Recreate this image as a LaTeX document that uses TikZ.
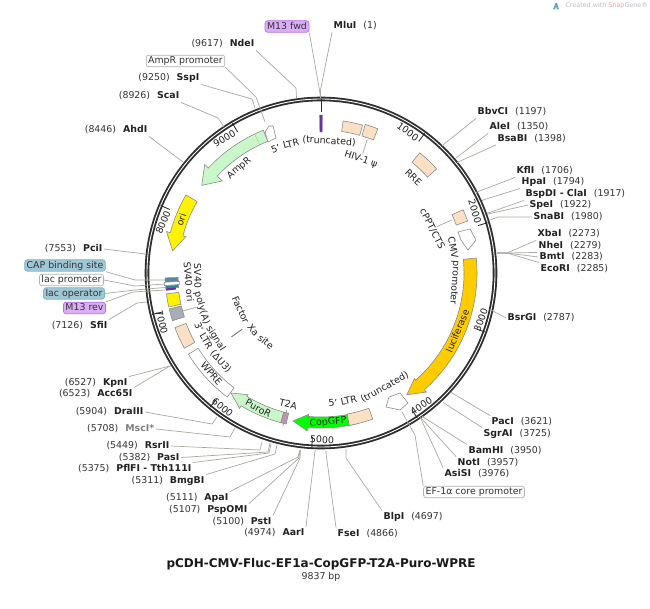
\documentclass[tikz,border=0pt]{standalone}
\usepackage{fontspec}
\setmainfont{DejaVu Sans}
\newcommand{\lblfont}{\fontsize{9.4}{11}\selectfont}
\definecolor{peach}{HTML}{FBE0C3}
\definecolor{ltgreen}{HTML}{C9F7C9}
\definecolor{orangef}{HTML}{FFCC00}
\definecolor{leadc}{HTML}{A9A9A2}
\definecolor{edgec}{HTML}{8C8C8C}
\definecolor{txtc}{HTML}{222222}
\definecolor{numc}{HTML}{333333}
\definecolor{primerc}{HTML}{6B2FA0}
\definecolor{primerfill}{HTML}{DCAEF7}
\definecolor{primeredge}{HTML}{B56BEB}
\definecolor{bluefill}{HTML}{9FC8D6}
\definecolor{blueedge}{HTML}{7FB6CC}
\definecolor{svgray}{HTML}{A8AEB4}
\definecolor{capfill}{HTML}{5A8A99}
\definecolor{opfill}{HTML}{1F8A96}
\definecolor{t2afill}{HTML}{C293B5}
\definecolor{wmgray}{HTML}{B9BEC4}
\definecolor{wmred}{HTML}{F2A3A3}
\definecolor{wmblue}{HTML}{5AA7E0}
\tikzset{
  lab/.style={font=\lblfont,text=txtc,inner sep=1.5,text height=7.5,text depth=2},
  leader/.style={draw=leadc,line width=0.7},
  feat/.style={draw=edgec,line width=0.6},
  tag/.style={font=\lblfont,text=numc,rounded corners=2.5,line width=0.7,inner xsep=2,inner ysep=1,text height=7.5,text depth=2},
  primerbox/.style={tag,fill=primerfill,draw=primeredge},
  bluebox/.style={tag,fill=bluefill,draw=blueedge},
  whitebox/.style={tag,fill=white,draw=gray!60},
  rotlab/.style={lab,inner sep=0}
}
% enzyme labels: id, x, y, name, number, anchor of leader, bend, site
\newcommand{\enzL}[8]{\node[lab,anchor=east] (#1) at (#2,#3) {\textcolor{numc}{(#5)}\hspace{7pt}\textbf{#4}};
  \coordinate (#1-b) at #7; \coordinate (#1-s) at #8;
  \draw[leader] (#1.#6) -- (#1-b) -- (#1-s);}
\newcommand{\enzR}[8]{\node[lab,anchor=west] (#1) at (#2,#3) {\textbf{#4}\hspace{7pt}\textcolor{numc}{(#5)}};
  \coordinate (#1-b) at #7; \coordinate (#1-s) at #8;
  \draw[leader] (#1.#6) -- (#1-b) -- (#1-s);}
% features in polar coordinates, angle clockwise from top
\newcommand{\band}[5]{\draw[#1] ({90-(#2)}:#5) arc[start angle={90-(#2)},end angle={90-(#3)},radius=#5] -- ({90-(#3)}:#4) arc[start angle={90-(#3)},end angle={90-(#2)},radius=#4] -- cycle;}
\newcommand{\arrowfeat}[9]{\draw[#1] ({90-(#2)}:#6) arc[start angle={90-(#2)},end angle={90-(#3)},radius=#6] -- ({90-(#3)}:#8) -- ({90-(#4)}:#9) -- ({90-(#3)}:#7) -- ({90-(#3)}:#5) arc[start angle={90-(#3)},end angle={90-(#2)},radius=#5] -- cycle;}
% words set on a circle: name, text, angle, radius
\newcommand{\wordcw}[4]{\node[rotlab,rotate={-(#3)}] (#1) at ({90-(#3)}:#4) {#2};}
\newcommand{\wordccw}[4]{\node[rotlab,rotate={180-(#3)}] (#1) at ({90-(#3)}:#4) {#2};}
\newcommand{\tickup}[2]{\draw[line width=0.8,txtc] ({90-(#2)}:164) -- ({90-(#2)}:174);
  \node[rotlab,anchor=east,rotate={-(#2)}] (t#1) at ({90-(#2-0.8)}:164.5) {#1};}
\newcommand{\tickdn}[2]{\draw[line width=0.8,txtc] ({90-(#2)}:164) -- ({90-(#2)}:174);
  \node[rotlab,anchor=west,rotate={180-(#2)}] (t#1) at ({90-(#2+0.8)}:167) {#1};}
\begin{document}
\begin{tikzpicture}[x=1pt,y=-1pt]
\useasboundingbox (0,0) rectangle (650,609);
\fill[white] (0,0) rectangle (650,609);

\begin{scope}[shift={(321,273)},y=1pt]
  % backbone
  \draw[line width=4.6,color=black!82] (0,0) circle[radius=174];
  \draw[line width=0.9,color=white] (0,0) circle[radius=174];
\end{scope}

% tags
\node[primerbox] (m13fwd) at (287,26.5) {M13 fwd};
\node[whitebox] (amppro) at (185.5,61) {AmpR promoter};
\node[bluebox] (cap) at (65,265.5) {CAP binding site};
\node[whitebox] (lacpro) at (71.5,280) {lac promoter};
\node[bluebox] (lacop) at (74,293.5) {lac operator};
\node[primerbox] (m13rev) at (84.5,308) {M13 rev};
\node[whitebox] (ef1a) at (474,492) {EF-1α core promoter};

\coordinate (m13fwd-b) at (319.5,90); \coordinate (m13fwd-s) at (320.5,98);
\draw[leader] (m13fwd.south east) -- (m13fwd-b) -- (m13fwd-s);
\coordinate (amppro-b) at (256,97); \coordinate (amppro-s) at (265,122);
\draw[leader] (amppro.south east) -- (amppro-b) -- (amppro-s);
\coordinate (cap-b) at (135,280); \coordinate (cap-s) at (165,280);
\draw[leader] (cap.south east) -- (cap-b) -- (cap-s);
\coordinate (lacpro-b) at (135,286); \coordinate (lacpro-s) at (165,284);
\draw[leader] (lacpro.east) -- (lacpro-b) -- (lacpro-s);
\coordinate (lacop-b) at (135,290); \coordinate (lacop-s) at (165,287.5);
\draw[leader] (lacop.east) -- (lacop-b) -- (lacop-s);
\coordinate (m13rev-b) at (133,292); \coordinate (m13rev-s) at (165,290);
\draw[leader] (m13rev.north east) -- (m13rev-b) -- (m13rev-s);
\coordinate (ef1a-b) at (415,435); \coordinate (ef1a-s) at (402,412);
\draw[leader] (ef1a.north west) -- (ef1a-b) -- (ef1a-s);

% enzyme sites, top and left
\enzR{mlui}{332}{26}{MluI}{1}{south west}{(320.5,90)}{(320.5,98)}
\enzL{ndei}{256}{44}{NdeI}{9617}{south east}{(296,88)}{(296.5,98)}
\enzL{sspi}{201}{78}{SspI}{9250}{south east}{(252,99)}{(255,108)}
\enzL{scai}{181}{96}{ScaI}{8926}{south east}{(218,118)}{(224,127)}
\enzL{ahdi}{149}{130}{AhdI}{8446}{south east}{(183,162)}{(184,163)}
\enzL{pcii}{104}{249}{PciI}{7553}{east}{(145,254)}{(146,254)}
\enzL{sfii}{109}{326}{SfiI}{7126}{north east}{(137,303)}{(147,302)}
\enzL{kpni}{129}{383}{KpnI}{6527}{north east}{(170,366)}{(171,365.5)}
\enzL{acc}{134}{394}{Acc65I}{6523}{north east}{(170,366)}{(171,365.5)}
\enzL{dra}{145}{412}{DraIII}{5904}{east}{(212,424)}{(217,417)}
\node[lab,anchor=east] (msc) at (156,429) {\textcolor{numc}{(5708)}\hspace{7pt}\textcolor{gray}{\textbf{MscI*}}};
\coordinate (msc-b) at (230,437); \coordinate (msc-s) at (235,428);
\draw[leader] (msc.east) -- (msc-b) -- (msc-s);
\enzL{rsr}{171}{446}{RsrII}{5449}{east}{(260,450)}{(262,442)}
\enzL{pas}{181}{457.5}{PasI}{5382}{east}{(268,452)}{(270,443)}
\enzL{pfl}{193}{469}{PflFI - Tth111I}{5375}{north east}{(269,453)}{(271,444)}
\enzL{bmg}{206}{481}{BmgBI}{5311}{north east}{(275,454)}{(277,445)}
\enzL{apa}{230}{498}{ApaI}{5111}{north east}{(298,457)}{(300,450)}
\enzL{psp}{249}{510}{PspOMI}{5107}{north east}{(299,458)}{(300,450)}
\enzL{pst}{273}{522}{PstI}{5100}{north east}{(300,458)}{(300.5,450)}
\enzL{aar}{306}{533}{AarI}{4974}{north east}{(315,451)}{(315.5,450)}
% enzyme sites, right and bottom
\enzR{bbv}{476}{112}{BbvCI}{1197}{south west}{(443,145)}{(442,146)}
\enzR{ale}{488}{127}{AleI}{1350}{south west}{(456,158)}{(455,159)}
\enzR{bsa}{496}{138.5}{BsaBI}{1398}{south west}{(458,162)}{(457,163)}
\enzR{kfl}{515}{171}{KflI}{1706}{south west}{(477,192)}{(476,193)}
\enzR{hpa}{520}{182}{HpaI}{1794}{south west}{(483,200)}{(482,201)}
\enzR{bsp}{524}{194}{BspDI - ClaI}{1917}{south west}{(488,213)}{(487,213.5)}
\enzR{spe}{528}{205}{SpeI}{1922}{west}{(488,214)}{(487,214)}
\enzR{sna}{532}{217}{SnaBI}{1980}{west}{(498,217)}{(490,220)}
\enzR{xba}{536}{234}{XbaI}{2273}{south west}{(507,253)}{(497,253)}
\enzR{nhe}{537}{246}{NheI}{2279}{south west}{(507,253)}{(497,253)}
\enzR{bmt}{538}{257}{BmtI}{2283}{west}{(507,253)}{(497,253)}
\enzR{eco}{539}{269}{EcoRI}{2285}{north west}{(507,253)}{(497,253)}
\enzR{bsr}{506}{318}{BsrGI}{2787}{west}{(491,310)}{(490,309.5)}
\enzR{pac}{490}{422}{PacI}{3621}{north west}{(452,393)}{(451,392.5)}
\enzR{sgr}{482}{434}{SgrAI}{3725}{north west}{(444,403)}{(443,402.5)}
\enzR{bam}{467}{451}{BamHI}{3950}{north west}{(423,417)}{(422,416)}
\enzR{not}{456}{463}{NotI}{3957}{north west}{(421,418)}{(420.5,417)}
\enzR{asi}{443}{474}{AsiSI}{3976}{north west}{(421,419)}{(420,418)}
\enzR{blp}{382}{517}{BlpI}{4697}{north west}{(346,458)}{(346,449)}
\enzR{fse}{336}{534}{FseI}{4866}{north west}{(326,453)}{(326,451)}

\begin{scope}[shift={(321,273)},y=1pt]
  % ticks
  \tickup{1000}{36.6}
  \tickup{2000}{73.2}
  \tickdn{3000}{109.8}
  \tickdn{4000}{146.4}
  \tickdn{5000}{183.0}
  \tickdn{6000}{219.6}
  \tickdn{7000}{256.2}
  \tickup{8000}{292.8}
  \tickup{9000}{329.4}
  % directional features
  \arrowfeat{feat,fill=ltgreen}{338}{313}{306.3}{142}{154}{135}{159}{148}
  \draw[edgec,line width=0.5,densely dotted] ({90-334.5}:142) -- ({90-334.5}:154);
  \arrowfeat{feat,fill=yellow}{300}{285}{278.5}{143}{156}{140}{160}{150}
  \arrowfeat{feat,fill=orangef}{84.5}{138.5}{144.8}{143}{156}{141}{159}{149}
  \arrowfeat{feat,fill=green}{166}{185}{190.7}{144}{155}{142}{158.5}{150.6}
  \arrowfeat{feat,fill=ltgreen}{195}{211}{216.9}{144}{155}{142}{158}{150}
  % bands
  \band{feat,fill=peach}{8.3}{15.7}{143}{153.6}
  \band{feat,fill=peach}{16.6}{21.5}{143}{155}
  \band{feat,fill=peach}{39.4}{48}{143.3}{155.6}
  \band{feat,fill=peach}{66}{70.5}{143.5}{155.5}
  \band{feat,fill=peach}{160.5}{169.5}{143.5}{155}
  \band{feat,fill=white}{217.1}{238.5}{144}{155.5}
  \band{feat,fill=peach}{241.2}{249.5}{144}{156}
  \band{feat,fill=svgray}{252.2}{256.7}{143.5}{156}
  \band{feat,fill=yellow}{257.4}{262.3}{143.5}{156}
  % lac region
  \band{feat,fill=capfill}{266.6}{268.2}{143}{156}
  \band{feat,fill=white}{265.4}{266.6}{142}{157}
  \band{feat,fill=opfill}{264.2}{265.2}{143}{156}
  \band{draw=none,fill=primerc}{263.5}{264.3}{146}{156}
  % T2A
  \draw[edgec,line width=0.6] ({90-194}:141) -- ({90-194}:158);
  \band{feat,fill=t2afill}{193}{195}{144}{155}
  % M13 fwd primer and MluI cut mark
  \band{draw=gray,line width=0.3,fill=primerc}{-0.5}{0.5}{141}{158}
  \draw[black!85,line width=0.9] (90:161) -- (90:174);
  % Factor Xa site
  \draw[gray!90!black,line width=0.9] ({90-234.5}:97) -- ({90-234.5}:110);
\end{scope}

\draw[feat,fill=white] (265,132) -- (269,126) -- (273,126) -- (276,138) -- (268,142) -- cycle;
\draw[feat,fill=white] (458,232) -- (470,229) -- (476,240) -- (468,250) -- (461,240) -- cycle;
\draw[feat,fill=white] (389,397) -- (400,393) -- (408,403) -- (400,410) -- (386,407) -- cycle;

% feature leaders
\coordinate (hivA) at (367,140); \coordinate (cpptA) at (452,220); \coordinate (svA) at (183,311); \coordinate (svB) at (197,307);

\node[rotlab,rotate=-19] (hivl) at (361,159) {HIV-1 ψ};
\draw[leader] (hivA) -- (hivl.north);
\node[rotlab,rotate=-44] (rrel) at (413,178) {RRE};
\node[rotlab,rotate=-63] (cpptl) at (432,229) {cPPT/CTS};
\draw[leader] (cpptA) -- (cpptl.north);
\node[rotlab,rotate=40] (ampl) at (239,168) {AmpR};
\node[rotlab,rotate=70] (oril) at (182,220) {ori};
\node[rotlab,rotate=4] (copl) at (328,422) {CopGFP};
\node[rotlab,rotate=-14] (t2al) at (288,405) {T2A};
\node[rotlab,rotate=-28] (purol) at (258,409) {PuroR};
\node[rotlab,rotate=-50] (wprel) at (211,374) {WPRE};
\node[rotlab,rotate=-85] (svori) at (188,282) {SV40 ori};
\draw[leader] (svA) -- (svB);

\begin{scope}[shift={(321,273)},y=1pt]
  \wordcw{ltrAa}{5'}{-20}{132}
  \wordcw{ltrAb}{LTR}{-13.1}{132}
  \wordcw{ltrAc}{(truncated)}{3.5}{132}
  \wordcw{cmva}{CMV}{79}{134}
  \wordcw{cmvb}{promoter}{94.2}{134}
  \wordccw{lucl}{luciferase}{113}{149}
  \wordccw{ltrBa}{5'}{174.7}{131}
  \wordccw{ltrBb}{LTR}{167.7}{131}
  \wordccw{ltrBc}{(truncated)}{150.9}{131}
  \wordccw{ltrCa}{3'}{246.2}{134}
  \wordccw{ltrCb}{LTR}{239.3}{134}
  \wordccw{ltrCc}{(ΔU3)}{228.5}{134}
  \wordccw{pola}{SV40}{268.6}{124}
  \wordccw{polb}{poly(A)}{253.7}{124}
  \wordccw{polc}{signal}{238.1}{124}
  \wordccw{faca}{Factor}{245.4}{89}
  \wordccw{facb}{Xa}{230}{89}
  \wordccw{facc}{site}{218.7}{89}
\end{scope}

% title
\node[font=\fontsize{12}{14}\selectfont\bfseries,text=black!90] (title) at (321,564) {pCDH-CMV-Fluc-EF1a-CopGFP-T2A-Puro-WPRE};
\node[font=\fontsize{9.4}{11}\selectfont,text=numc] (len) at (321,577) {9837 bp};
% watermark
\fill[wmblue] (553,9.5) -- (555.5,3) -- (557,3) -- (559,9.5) -- (557,9.5) -- (556,6.5) -- (555,9.5) -- cycle;
\node[font=\fontsize{6.4}{8}\selectfont,text=wmgray,anchor=east,inner sep=0] (wm) at (648,5.5) {Created with \textcolor{wmred}{Snap}Gene®};
\end{tikzpicture}
\end{document}
